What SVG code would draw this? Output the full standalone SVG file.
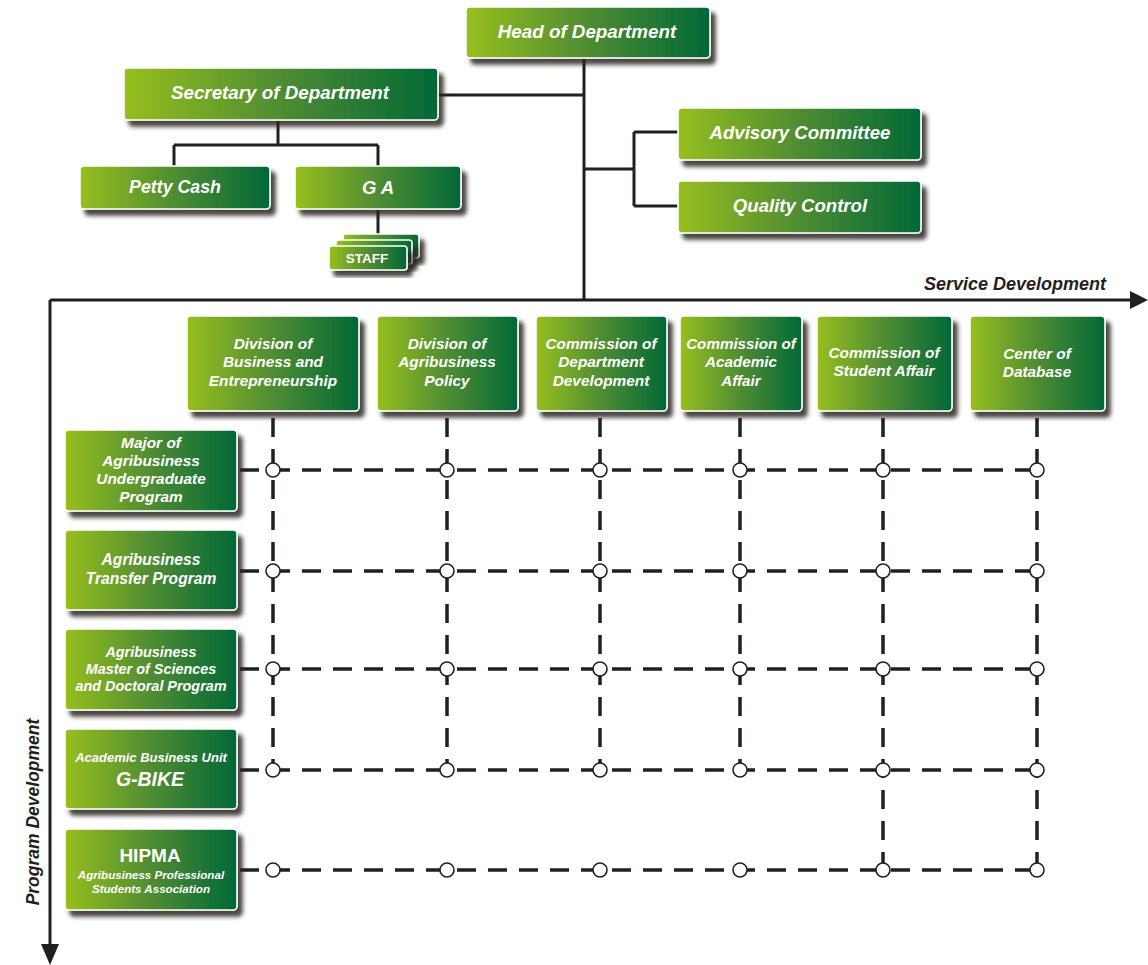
<svg xmlns="http://www.w3.org/2000/svg" width="1148" height="965" viewBox="0 0 1148 965">
<defs>
<linearGradient id="g" x1="0" y1="0" x2="1" y2="0">
<stop offset="0" stop-color="#97bf1e"/>
<stop offset="0.5" stop-color="#4f8c33"/>
<stop offset="1" stop-color="#006837"/>
</linearGradient>
<filter id="sh" x="-10%" y="-10%" width="130%" height="140%">
<feDropShadow dx="5" dy="6" stdDeviation="2.2" flood-color="#2b2522" flood-opacity="0.85"/>
</filter>
</defs>
<style>
.b{fill:url(#g);stroke:#fff;stroke-width:1.6;filter:url(#sh)}
.t{fill:#fff;font-family:"Liberation Sans",Arial,sans-serif;font-style:italic;font-weight:700;text-anchor:middle}
.n{fill:#fff;font-family:"Liberation Sans",Arial,sans-serif;font-weight:700;text-anchor:middle}
.ln{stroke:#231f20;stroke-width:3;fill:none}
.d{stroke:#231f20;stroke-width:3.5;fill:none;stroke-dasharray:19 12}
.c{fill:#fff;stroke:#231f20;stroke-width:1.6}
.ax{fill:#231f20;font-family:"Liberation Sans",Arial,sans-serif;font-style:italic;font-weight:700}
</style>
<rect width="1148" height="965" fill="#fff"/>

<g id="connectors">
<path class="ln" d="M584,58 V300"/>
<path class="ln" d="M438,95 H584"/>
<path class="ln" d="M278,120 V145 M174,145 H378 M174,145 V166 M378,145 V166 M378,209 V236"/>
<path class="ln" d="M584,169 H634 M634,132 V206 M634,132 H678 M634,206 H678"/>
<path d="M50,300 H1136" stroke="#231f20" stroke-width="3" fill="none"/>
<path d="M1130,291 L1148,300 L1130,309 Z" fill="#231f20"/>
<path d="M50,300 V950" stroke="#231f20" stroke-width="3" fill="none"/>
<path d="M41,944 L50,965 L59,944 Z" fill="#231f20"/>
<g id="grid">
<path class="d" d="M273,418 V770 M447,418 V770 M600,418 V770 M740,418 V770 M883,418 V870 M1037,418 V870"/>
<path class="d" d="M240,470 H1037 M240,571 H1037 M240,669 H1037 M240,770 H1037 M240,870 H1037"/>
<g id="junctions">
<circle class="c" cx="273" cy="470" r="7"/><circle class="c" cx="447" cy="470" r="7"/><circle class="c" cx="600" cy="470" r="7"/><circle class="c" cx="740" cy="470" r="7"/><circle class="c" cx="883" cy="470" r="7"/><circle class="c" cx="1037" cy="470" r="7"/>
<circle class="c" cx="273" cy="571" r="7"/><circle class="c" cx="447" cy="571" r="7"/><circle class="c" cx="600" cy="571" r="7"/><circle class="c" cx="740" cy="571" r="7"/><circle class="c" cx="883" cy="571" r="7"/><circle class="c" cx="1037" cy="571" r="7"/>
<circle class="c" cx="273" cy="669" r="7"/><circle class="c" cx="447" cy="669" r="7"/><circle class="c" cx="600" cy="669" r="7"/><circle class="c" cx="740" cy="669" r="7"/><circle class="c" cx="883" cy="669" r="7"/><circle class="c" cx="1037" cy="669" r="7"/>
<circle class="c" cx="273" cy="770" r="7"/><circle class="c" cx="447" cy="770" r="7"/><circle class="c" cx="600" cy="770" r="7"/><circle class="c" cx="740" cy="770" r="7"/><circle class="c" cx="883" cy="770" r="7"/><circle class="c" cx="1037" cy="770" r="7"/>
<circle class="c" cx="273" cy="870" r="7"/><circle class="c" cx="447" cy="870" r="7"/><circle class="c" cx="600" cy="870" r="7"/><circle class="c" cx="740" cy="870" r="7"/><circle class="c" cx="883" cy="870" r="7"/><circle class="c" cx="1037" cy="870" r="7"/>
</g>
</g>
</g>

<text class="ax" x="1106" y="290" font-size="18" text-anchor="end">Service Development</text>
<text class="ax" font-size="17.5" text-anchor="middle" transform="translate(39,812) rotate(-90)">Program Development</text>

<g id="head"><rect class="b" x="466" y="7" width="244" height="51" rx="4"/><text class="t" x="587" y="38" font-size="18.8">Head of Department</text></g>
<g id="secretary"><rect class="b" x="124" y="68" width="314" height="52" rx="4"/><text class="t" x="280" y="99" font-size="18.8">Secretary of Department</text></g>
<g id="petty-cash"><rect class="b" x="80" y="166" width="190" height="43" rx="4"/><text class="t" x="175" y="193" font-size="17.8">Petty Cash</text></g>
<g id="ga"><rect class="b" x="295" y="166" width="166" height="43" rx="4"/><text class="t" x="378" y="194" font-size="18.5">G A</text></g>
<g id="staff">
<rect class="b" x="343" y="234" width="76" height="24" rx="3"/>
<rect class="b" x="336" y="240" width="76" height="24" rx="3"/>
<rect class="b" x="329" y="246" width="78" height="24" rx="3"/>
<text class="n" x="367" y="263" font-size="13.5">STAFF</text>
</g>
<g id="advisory"><rect class="b" x="678" y="108" width="243" height="52" rx="4"/><text class="t" x="800" y="139" font-size="18.6">Advisory Committee</text></g>
<g id="quality"><rect class="b" x="678" y="181" width="243" height="52" rx="4"/><text class="t" x="800" y="212" font-size="18.6">Quality Control</text></g>

<g id="div-business"><rect class="b" x="187" y="316" width="172" height="95" rx="4"/><text class="t" font-size="15.4"><tspan x="273" y="348.5">Division of</tspan><tspan x="273" y="367">Business and</tspan><tspan x="273" y="385.5">Entrepreneurship</tspan></text></g>
<g id="div-policy"><rect class="b" x="377" y="316" width="141" height="95" rx="4"/><text class="t" font-size="15.4"><tspan x="447" y="348.5">Division of</tspan><tspan x="447" y="367">Agribusiness</tspan><tspan x="447" y="385.5">Policy</tspan></text></g>
<g id="com-dept"><rect class="b" x="536" y="316" width="131" height="95" rx="4"/><text class="t" font-size="15.4"><tspan x="601" y="348.5">Commission of</tspan><tspan x="601" y="367">Department</tspan><tspan x="601" y="385.5">Development</tspan></text></g>
<g id="com-academic"><rect class="b" x="680" y="316" width="122" height="95" rx="4"/><text class="t" font-size="15.2"><tspan x="741" y="348.5">Commission of</tspan><tspan x="741" y="367">Academic</tspan><tspan x="741" y="385.5">Affair</tspan></text></g>
<g id="com-student"><rect class="b" x="817" y="316" width="135" height="95" rx="4"/><text class="t" font-size="15.4"><tspan x="884" y="357.5">Commission of</tspan><tspan x="884" y="376">Student Affair</tspan></text></g>
<g id="center-db"><rect class="b" x="970" y="316" width="135" height="95" rx="4"/><text class="t" font-size="15.4"><tspan x="1037" y="358.5">Center of</tspan><tspan x="1037" y="377">Database</tspan></text></g>

<g id="major-ug"><rect class="b" x="65" y="430" width="172" height="81" rx="4"/><text class="t" font-size="15.4"><tspan x="151" y="448">Major of</tspan><tspan x="151" y="466">Agribusiness</tspan><tspan x="151" y="484">Undergraduate</tspan><tspan x="151" y="502">Program</tspan></text></g>
<g id="transfer"><rect class="b" x="65" y="530" width="172" height="80" rx="4"/><text class="t" font-size="15.6"><tspan x="151" y="565">Agribusiness</tspan><tspan x="151" y="584">Transfer Program</tspan></text></g>
<g id="master"><rect class="b" x="65" y="629" width="172" height="81" rx="4"/><text class="t" font-size="14.4"><tspan x="151" y="657">Agribusiness</tspan><tspan x="151" y="674">Master of Sciences</tspan><tspan x="151" y="691">and Doctoral Program</tspan></text></g>
<g id="gbike"><rect class="b" x="65" y="729" width="172" height="80" rx="4"/><text class="t" x="151" y="762" font-size="13">Academic Business Unit</text><text class="t" x="150" y="786" font-size="19.5">G-BIKE</text></g>
<g id="hipma"><rect class="b" x="65" y="829" width="172" height="81" rx="4"/><text class="n" x="150" y="862" font-size="19">HIPMA</text><text class="t" font-size="11.6"><tspan x="151" y="879">Agribusiness Professional</tspan><tspan x="151" y="893">Students Association</tspan></text></g>
</svg>
